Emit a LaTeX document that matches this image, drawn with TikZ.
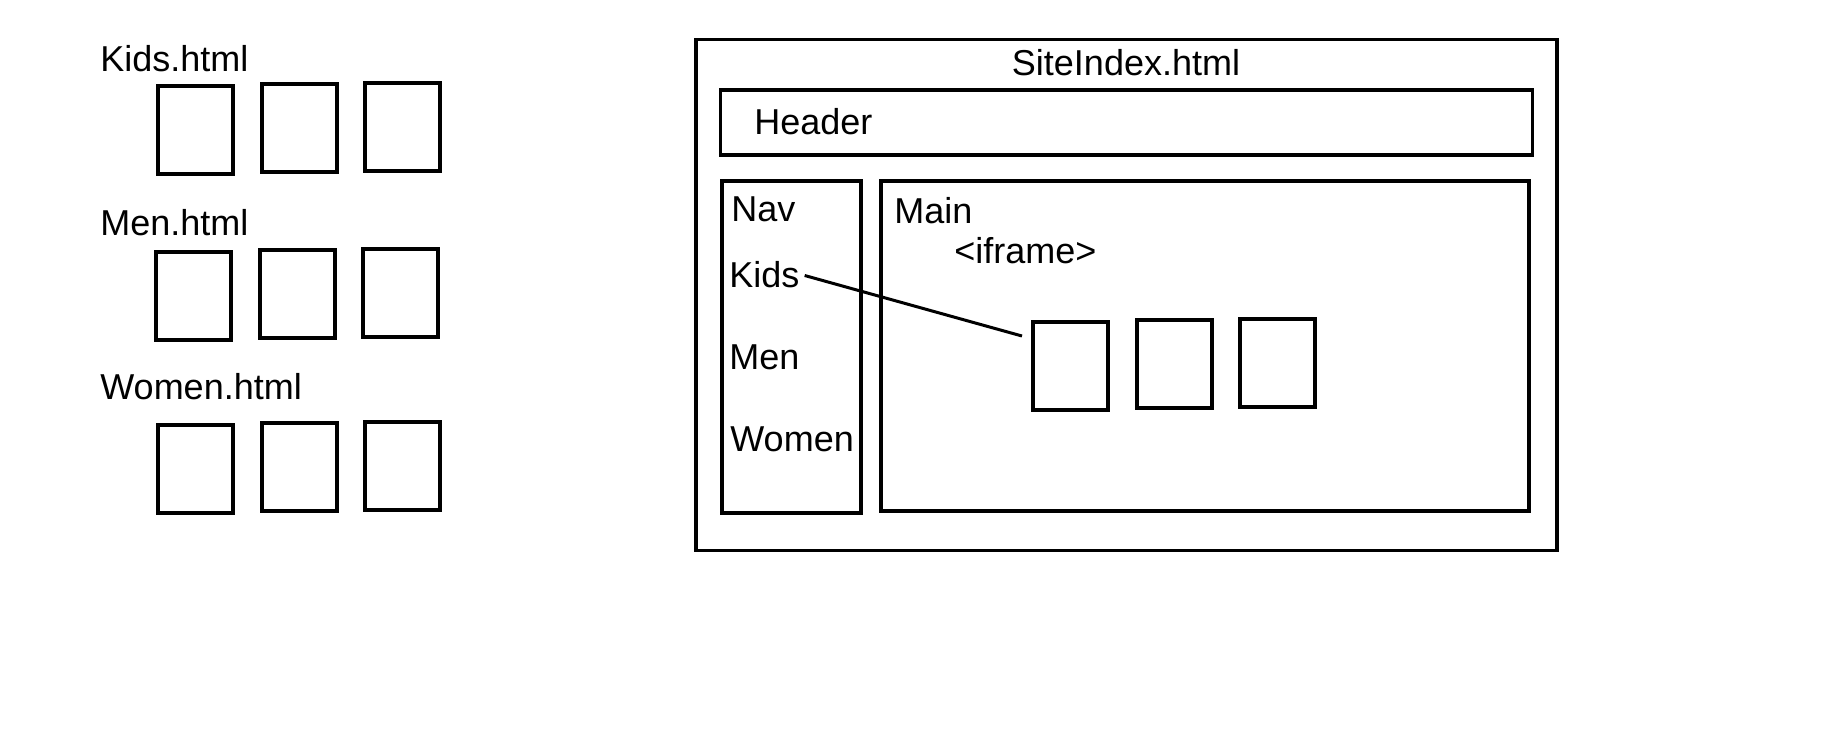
\documentclass[tikz,border=0pt]{standalone}
\usepackage{fontspec}
\setmainfont{Liberation Sans}
\tikzset{
  every node/.style={font=\fontsize{18}{22}\selectfont},
  label/.style={anchor=base west, inner sep=0pt},
  page/.style={draw, line width=2pt, minimum width=37.5pt, minimum height=44pt, inner sep=0pt},
  frame/.style={draw, line width=1.8pt, inner sep=0pt},
  link/.style={line width=1.5pt, shorten <=2.5pt}
}
\begin{document}
\begin{tikzpicture}[x=0.5pt, y=-0.5pt]
        \useasboundingbox (0,0) rectangle (1839,752);

        % Pages
        \node(kidsfile) [label] at (100,71) {Kids.html};
        \node(k1) [page] at (195.5,129.5) {};
        \node(k2) [page] at (299.5,128) {};
        \node(k3) [page] at (402.5,127) {};

        \node(menfile) [label] at (100,235) {Men.html};
        \node(m1) [page] at (193,296) {};
        \node(m2) [page] at (297.5,294) {};
        \node(m3) [page] at (400.5,293) {};

        \node(womenfile) [label] at (100,399) {Women.html};
        \node(w1) [page] at (195,469) {};
        \node(w2) [page] at (299.5,467) {};
        \node(w3) [page] at (402.5,465.5) {};

        % Site index
        \node(site) [frame, minimum width=430.5pt, minimum height=255.5pt] at (1126.5,295) {};
        \node(sitename) [anchor=base, inner sep=0pt] at (1126,75) {SiteIndex.html};
        \node(header) [frame, minimum width=406pt, minimum height=32.5pt] at (1126.5,122.5) {};
        \node(headertext) [label] at (754,134) {Header};
        \node(nav) [frame, minimum width=69.5pt, minimum height=166pt] at (791.5,347) {};
        \node(main) [frame, minimum width=324pt, minimum height=165pt] at (1205,346) {};

        \node(navtext) [label] at (731,221) {Nav};
        \node(kids) [label] at (729,287) {Kids};
        \node(men) [label] at (729,369) {Men};
        \node(women) [label] at (730,451) {Women};

        \node(maintext) [label] at (894,223) {Main};
        \node(iframetext) [label] at (954,263) {<iframe>};
        \node(f1) [page] at (1070.5,366) {};
        \node(f2) [page] at (1174,363.5) {};
        \node(f3) [page] at (1277,362.5) {};
        \coordinate(kidsend) at (1022,336);

        % Edges
        \draw[link] (kids.east) -- (kidsend);

    \end{tikzpicture}
\end{document}
